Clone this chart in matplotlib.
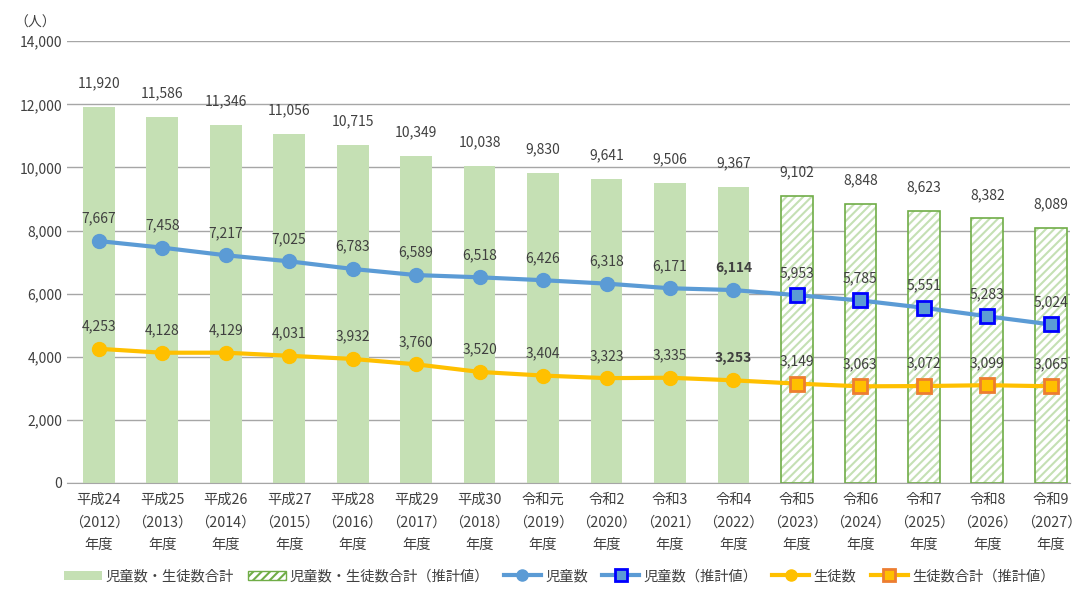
import matplotlib.pyplot as plt
import matplotlib.patches as mpatches
from matplotlib.lines import Line2D

plt.rcParams['font.family'] = ['Noto Sans CJK JP', 'DejaVu Sans']
plt.rcParams['hatch.linewidth'] = 1.5

# データ
categories = ['平成24\n（2012）\n年度', '平成25\n（2013）\n年度', '平成26\n（2014）\n年度',
              '平成27\n（2015）\n年度', '平成28\n（2016）\n年度', '平成29\n（2017）\n年度',
              '平成30\n（2018）\n年度', '令和元\n（2019）\n年度', '令和2\n（2020）\n年度',
              '令和3\n（2021）\n年度', '令和4\n（2022）\n年度', '令和5\n（2023）\n年度',
              '令和6\n（2024）\n年度', '令和7\n（2025）\n年度', '令和8\n（2026）\n年度',
              '令和9\n（2027）\n年度']
total = [11920, 11586, 11346, 11056, 10715, 10349, 10038, 9830, 9641, 9506, 9367,
         9102, 8848, 8623, 8382, 8089]
jido = [7667, 7458, 7217, 7025, 6783, 6589, 6518, 6426, 6318, 6171, 6114,
        5953, 5785, 5551, 5283, 5024]
seito = [4253, 4128, 4129, 4031, 3932, 3760, 3520, 3404, 3323, 3335, 3253,
         3149, 3063, 3072, 3099, 3065]
n_actual = 11  # 令和4まで実績、以降は推計値

x = list(range(len(categories)))
xa = x[:n_actual]
xp = x[n_actual:]

fig = plt.figure(figsize=(10.76, 5.89), dpi=100)
ax = fig.add_axes([0.0623, 0.18, 0.932, 0.75])

text_color = '#404040'

# 棒グラフ
ax.bar(xa, total[:n_actual], width=0.5, color='#C5E0B4', zorder=2)
ax.bar(xp, total[n_actual:], width=0.5, color='white', edgecolor='#C5E0B4',
       hatch='////', linewidth=0, zorder=2)
ax.bar(xp, total[n_actual:], width=0.5, fill=False, edgecolor='#70AD47',
       linewidth=1.2, zorder=2)

# 折れ線
ax.plot(x, jido, color='#5B9BD5', linewidth=3, zorder=3)
ax.plot(xa, jido[:n_actual], 'o', color='#5B9BD5', markersize=10, zorder=4)
ax.plot(xp, jido[n_actual:], 's', markerfacecolor='#5B9BD5', markeredgecolor='#0000FF',
        markeredgewidth=2, markersize=10, zorder=4)
ax.plot(x, seito, color='#FFC000', linewidth=3, zorder=3)
ax.plot(xa, seito[:n_actual], 'o', color='#FFC000', markersize=10, zorder=4)
ax.plot(xp, seito[n_actual:], 's', markerfacecolor='#FFC000', markeredgecolor='#ED7D31',
        markeredgewidth=2, markersize=10, zorder=4)

# データラベル
for i in x:
    ax.annotate(f'{total[i]:,}', (i, total[i]), xytext=(0, 12), textcoords='offset points',
                ha='center', va='bottom', fontsize=10, color=text_color)
    bold = 'bold' if i == n_actual - 1 else 'normal'
    ax.annotate(f'{jido[i]:,}', (i, jido[i]), xytext=(0, 11), textcoords='offset points',
                ha='center', va='bottom', fontsize=10, color=text_color, fontweight=bold)
    ax.annotate(f'{seito[i]:,}', (i, seito[i]), xytext=(0, 11), textcoords='offset points',
                ha='center', va='bottom', fontsize=10, color=text_color, fontweight=bold)

ax.set_xlim(-0.5, 15.3)
ax.set_ylim(0, 14000)
ax.set_yticks(range(0, 14001, 2000))
ax.yaxis.set_major_formatter(plt.FuncFormatter(lambda v, p: f'{int(v):,}'))
ax.set_xticks(x)
ax.set_xticklabels(categories, linespacing=1.8)
ax.tick_params(axis='both', length=0, labelsize=10, labelcolor=text_color)
ax.tick_params(axis='x', pad=7, labelsize=10.3)
ax.grid(axis='y', color='#A6A6A6', linewidth=1, zorder=0)
ax.set_axisbelow(True)
for s in ['top', 'right', 'left']:
    ax.spines[s].set_visible(False)
ax.spines['bottom'].set_color('#A6A6A6')

fig.text(0.033, 0.962, '（人）', fontsize=10, color=text_color, ha='center', va='center')

# 凡例
handles = [
    mpatches.Patch(facecolor='#C5E0B4', edgecolor='none'),
    mpatches.Patch(facecolor='white', edgecolor='#70AD47', hatch='////'),
    Line2D([], [], color='#5B9BD5', linewidth=3, marker='o', markersize=8),
    Line2D([], [], color='#5B9BD5', linewidth=3, marker='s', markersize=8,
           markerfacecolor='#5B9BD5', markeredgecolor='#0000FF', markeredgewidth=2),
    Line2D([], [], color='#FFC000', linewidth=3, marker='o', markersize=8),
    Line2D([], [], color='#FFC000', linewidth=3, marker='s', markersize=8,
           markerfacecolor='#FFC000', markeredgecolor='#ED7D31', markeredgewidth=2),
]
labels = ['児童数・生徒数合計', '児童数・生徒数合計（推計値）', '児童数', '児童数（推計値）',
          '生徒数', '生徒数合計（推計値）']
leg = fig.legend(handles, labels, loc='lower center', bbox_to_anchor=(0.52, -0.012), ncol=6,
                 frameon=False, fontsize=10.3, handlelength=2.6, handletextpad=0.3,
                 columnspacing=1.0, handleheight=0.6)
for t in leg.get_texts():
    t.set_color(text_color)

fig.savefig('out.png', dpi=100)
